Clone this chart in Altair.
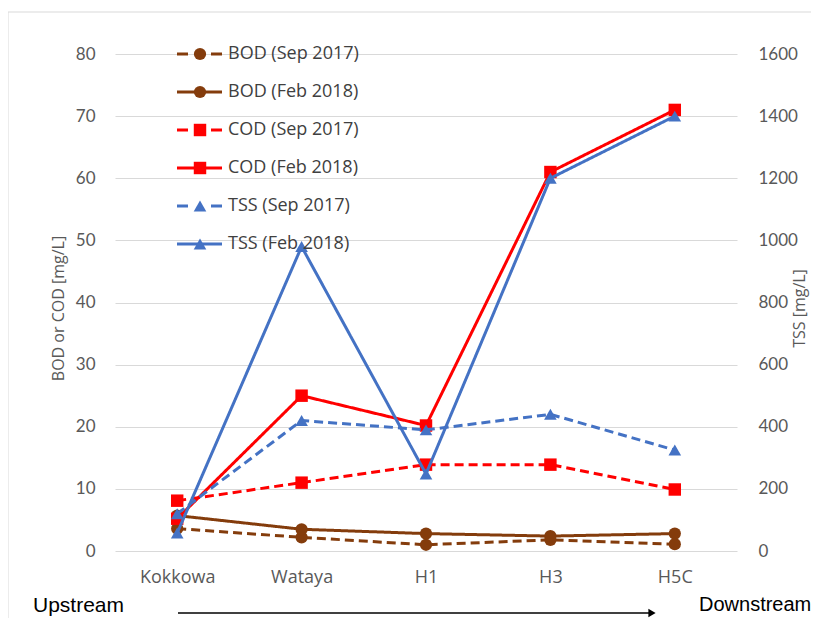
import altair as alt
import pandas as pd

# ---------------- data ----------------
sites = ["Kokkowa", "Wataya", "H1", "H3", "H5C"]
bod_sep = [3.6, 2.2, 1.0, 1.8, 1.1]
bod_feb = [5.7, 3.5, 2.8, 2.4, 2.8]
cod_sep = [8.1, 11.0, 13.9, 13.9, 9.9]
cod_feb = [5.2, 25.0, 20.2, 61.0, 71.0]
tss_sep = [120, 420, 390, 440, 325]
tss_feb = [58, 980, 248, 1200, 1400]

series_names = ["BOD (Sep 2017)", "BOD (Feb 2018)", "COD (Sep 2017)",
                "COD (Feb 2018)", "TSS (Sep 2017)", "TSS  (Feb 2018)"]
params = ["BOD", "BOD", "COD", "COD", "TSS", "TSS"]
periods = ["Sep 2017", "Feb 2018"] * 3
values = [bod_sep, bod_feb, cod_sep, cod_feb, tss_sep, tss_feb]

rows = []
for name, p, per, vals in zip(series_names, params, periods, values):
    for s, v in zip(sites, vals):
        rows.append({"site": s, "value": v, "series": name, "param": p, "period": per})
df = pd.DataFrame(rows)
left_df = df[df.param != "TSS"]
right_df = df[df.param == "TSS"]

legend_df = pd.DataFrame({"label": series_names, "param": params,
                          "period": periods, "row": list(range(6))})

# ---------------- styles ----------------
GRID = "#D9D9D9"
TXT = "#595959"
FONT = "Lato"
FONT2 = "Open Sans"
color_scale = alt.Scale(domain=["BOD", "COD", "TSS"], range=["#843C0C", "#FF0000", "#4472C4"])
shape_scale = alt.Scale(domain=["BOD", "COD", "TSS"], range=["circle", "square", "triangle-up"])
dash_scale = alt.Scale(domain=["Sep 2017", "Feb 2018"], range=[[9, 5], [1, 0]])
size_scale = alt.Scale(domain=["BOD", "COD", "TSS"], range=[150, 160, 130])

xenc = alt.X("site:N", sort=sites, scale=alt.Scale(paddingInner=0, paddingOuter=0),
             axis=alt.Axis(title=None, labelAngle=0, ticks=False, domain=False, grid=False,
                           labelPadding=17, labelFontSize=18, labelColor=TXT, labelFont=FONT2))

common = dict(
    x=xenc,
    color=alt.Color("param:N", scale=color_scale, legend=None),
    detail="series:N",
)

left_y = alt.Y("value:Q", scale=alt.Scale(domain=[0, 80], nice=False),
               axis=alt.Axis(orient="left", values=list(range(0, 81, 10)), title="BOD or COD [mg/L]",
                             domain=False, ticks=False, grid=True, gridColor=GRID,
                             labelPadding=20, labelFontSize=17, labelColor=TXT, labelFont=FONT,
                             titleFont=FONT2, titleFontSize=16, titleColor=TXT, titleFontWeight="normal",
                             titleAngle=270, titleX=-57, titleY=254, titleAlign="center",
                             titleBaseline="middle"))
right_y = alt.Y("value:Q", scale=alt.Scale(domain=[0, 1600], nice=False),
                axis=alt.Axis(orient="right", values=list(range(0, 1601, 200)), title="TSS [mg/L]",
                              format="d", domain=False, ticks=False, grid=False,
                              labelPadding=21, labelFontSize=17, labelColor=TXT, labelFont=FONT,
                              titleFont=FONT2, titleFontSize=16, titleColor=TXT, titleFontWeight="normal",
                              titleAngle=270, titleX=62, titleY=254, titleAlign="center",
                              titleBaseline="middle"))


def series_layer(data, yenc):
    base = alt.Chart(data)
    line = base.mark_line(strokeWidth=3).encode(
        y=yenc, strokeDash=alt.StrokeDash("period:N", scale=dash_scale, legend=None), **common)
    pts = base.mark_point(filled=True, opacity=1).encode(
        y=yenc, shape=alt.Shape("param:N", scale=shape_scale, legend=None),
        size=alt.Size("param:N", scale=size_scale, legend=None), **common)
    return alt.layer(line, pts)


left = series_layer(left_df, left_y)
right = series_layer(right_df, right_y)

# ---------------- manual legend ----------------
ly = alt.Y("row:O", scale=alt.Scale(type="point", range=[0, 190], padding=0), axis=None)
lbase = alt.Chart(legend_df)
leg_solid = lbase.transform_filter(alt.datum.period == "Feb 2018").mark_rule(strokeWidth=3).encode(
    x=alt.value(62), x2=alt.value(107), y=ly,
    color=alt.Color("param:N", scale=color_scale, legend=None))
leg_dash = lbase.transform_filter(alt.datum.period == "Sep 2017").mark_rule(
    strokeWidth=3, strokeDash=[11, 23]).encode(
    x=alt.value(62), x2=alt.value(107), y=ly,
    color=alt.Color("param:N", scale=color_scale, legend=None))
leg_pts = lbase.mark_point(filled=True, opacity=1).encode(
    x=alt.value(85), y=ly,
    color=alt.Color("param:N", scale=color_scale, legend=None),
    shape=alt.Shape("param:N", scale=shape_scale, legend=None),
    size=alt.Size("param:N", scale=size_scale, legend=None))
leg_txt = lbase.mark_text(align="left", baseline="middle", font=FONT2, fontSize=18, color="#404040").encode(
    x=alt.value(113), y=ly, text="label:N")
legend = alt.layer(leg_solid, leg_dash, leg_pts, leg_txt)

# ---------------- annotations ----------------
ann_df = pd.DataFrame({"t": ["Upstream", "Downstream"]})
sans = "Liberation Sans"
up_txt = alt.Chart(ann_df).transform_filter(alt.datum.t == "Upstream").mark_text(
    align="left", baseline="alphabetic", font=sans, fontSize=21, color="black").encode(
    x=alt.value(-82), y=alt.value(558), text="t:N")
down_txt = alt.Chart(ann_df).transform_filter(alt.datum.t == "Downstream").mark_text(
    align="left", baseline="alphabetic", font=sans, fontSize=20, color="black").encode(
    x=alt.value(584), y=alt.value(557), text="t:N")
arrow_line = alt.Chart(ann_df).transform_filter(alt.datum.t == "Upstream").mark_rule(
    color="black", strokeWidth=1.5).encode(x=alt.value(63), x2=alt.value(536), y=alt.value(559))
arrow_head = alt.Chart(ann_df).transform_filter(alt.datum.t == "Upstream").mark_point(
    shape="triangle-right", filled=True, opacity=1, color="black", size=70).encode(
    x=alt.value(537), y=alt.value(559))
border_top = alt.Chart(ann_df).transform_filter(alt.datum.t == "Upstream").mark_rule(
    color=GRID, strokeWidth=1).encode(x=alt.value(-107), x2=alt.value(720), y=alt.value(-42))
border_left = alt.Chart(ann_df).transform_filter(alt.datum.t == "Upstream").mark_rule(
    color=GRID, strokeWidth=1).encode(x=alt.value(-107), y=alt.value(-42), y2=alt.value(600))
ann = alt.layer(up_txt, down_txt, arrow_line, arrow_head, border_top, border_left)

chart = alt.layer(left, right, legend, ann).resolve_scale(y="independent").properties(
    width=622, height=497,
    autosize=alt.AutoSizeParams(type="none"),
    padding={"left": 107, "top": 46, "right": 74, "bottom": 67},
    background="white",
).configure_view(stroke=None)

chart.save("out.html", embed_options={"renderer": "svg", "actions": False})
